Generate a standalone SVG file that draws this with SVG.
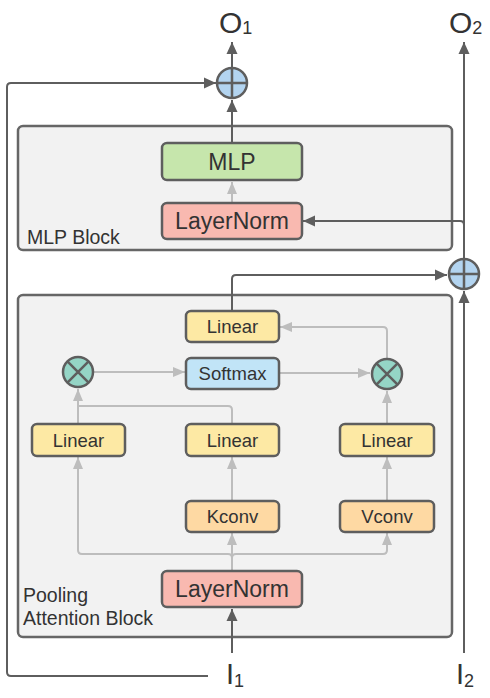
<svg xmlns="http://www.w3.org/2000/svg" width="490" height="698" viewBox="0 0 490 698">
<style>
.blk{fill:#f2f2f2;stroke:#666;stroke-width:2.5}
.nd{stroke:#5e5e5e;stroke-width:2.5}
.t{font-family:"Liberation Sans",Arial,sans-serif;fill:#333;text-anchor:middle}
.lb{font-family:"Liberation Sans",Arial,sans-serif;fill:#333;font-size:19.5px}
.io{font-family:"Liberation Sans",Arial,sans-serif;fill:#333}
.dk{fill:none;stroke:#5e5e5e;stroke-width:2}
.gr{fill:none;stroke:#bdbdbd;stroke-width:2}
.sym{stroke:#5e5e5e;stroke-width:2.5;fill:none}
</style>
<defs>
<marker id="ad" markerUnits="userSpaceOnUse" markerWidth="14" markerHeight="14" viewBox="0 0 14 14" refX="13" refY="7" orient="auto">
<path d="M1,1.5 L13,7 L1,12.5 Z" fill="#5e5e5e"/>
</marker>
<marker id="ag" markerUnits="userSpaceOnUse" markerWidth="14" markerHeight="14" viewBox="0 0 14 14" refX="13" refY="7" orient="auto">
<path d="M1,2 L13,7 L1,12 Z" fill="#bdbdbd"/>
</marker>
</defs>

<g id="mlp-block">
<rect class="blk" x="18" y="126" width="434" height="124" rx="5"/>
<text class="lb" x="27" y="244">MLP Block</text>
</g>
<g id="pool-block">
<rect class="blk" x="18" y="295" width="434" height="342" rx="5"/>
<text class="lb" x="23" y="602">Pooling</text>
<text class="lb" x="23" y="625">Attention Block</text>
</g>

<g id="connectors">
<path class="dk" d="M232,653 V609" marker-end="url(#ad)"/>
<path class="dk" d="M232,311 V279 Q232,275 236,275 H447" marker-end="url(#ad)"/>
<path class="dk" d="M464,653 V291" marker-end="url(#ad)"/>
<path class="dk" d="M464,258 V42" marker-end="url(#ad)"/>
<path class="dk" d="M464,258 V225 Q464,221 460,221 H303" marker-end="url(#ad)"/>
<path class="dk" d="M232,143 V100" marker-end="url(#ad)"/>
<path class="dk" d="M232,67 V42" marker-end="url(#ad)"/>
<path class="dk" d="M208,676 H11 Q7,676 7,672 V87 Q7,83 11,83 H216" marker-end="url(#ad)"/>

<path class="gr" d="M232,571 V533" marker-end="url(#ag)"/>
<path class="gr" d="M232,571 V558 Q232,554 228,554 H82 Q78,554 78,550 V457" marker-end="url(#ag)"/>
<path class="gr" d="M232,571 V558 Q232,554 236,554 H383 Q387,554 387,550 V533" marker-end="url(#ag)"/>
<path class="gr" d="M232,501 V457" marker-end="url(#ag)"/>
<path class="gr" d="M387,501 V457" marker-end="url(#ag)"/>
<path class="gr" d="M78,424 V389" marker-end="url(#ag)"/>
<path class="gr" d="M232,424 V410 Q232,406 228,406 H78"/>
<path class="gr" d="M94,372 H185" marker-end="url(#ag)"/>
<path class="gr" d="M279,373 H370" marker-end="url(#ag)"/>
<path class="gr" d="M387,424 V391" marker-end="url(#ag)"/>
<path class="gr" d="M387,359 V331 Q387,327 383,327 H280" marker-end="url(#ag)"/>
<path class="gr" d="M232,203 V182" marker-end="url(#ag)"/>
</g>

<g id="mlp">
<rect class="nd" x="162" y="143" width="140" height="37" rx="5" fill="#c6e6ac"/>
<text class="t" x="232" y="169.5" font-size="23">MLP</text>
</g>
<g id="layernorm-mlp">
<rect class="nd" x="162" y="203" width="140" height="36" rx="5" fill="#f9b9b0"/>
<text class="t" x="232" y="229" font-size="23">LayerNorm</text>
</g>
<g id="linear-out">
<rect class="nd" x="186" y="311" width="93" height="31" rx="5" fill="#fde9a4"/>
<text class="t" x="232.5" y="333" font-size="18.5">Linear</text>
</g>
<g id="softmax">
<rect class="nd" x="186" y="358" width="93" height="31" rx="5" fill="#c1e4f7"/>
<text class="t" x="232.5" y="380" font-size="18.5">Softmax</text>
</g>
<g id="linear-q">
<rect class="nd" x="32" y="424" width="93" height="32" rx="5" fill="#fde9a4"/>
<text class="t" x="78.5" y="446.5" font-size="18.5">Linear</text>
</g>
<g id="linear-k">
<rect class="nd" x="186" y="424" width="93" height="32" rx="5" fill="#fde9a4"/>
<text class="t" x="232.5" y="446.5" font-size="18.5">Linear</text>
</g>
<g id="linear-v">
<rect class="nd" x="340" y="424" width="94" height="32" rx="5" fill="#fde9a4"/>
<text class="t" x="387" y="446.5" font-size="18.5">Linear</text>
</g>
<g id="kconv">
<rect class="nd" x="186" y="501" width="93" height="31" rx="5" fill="#fed9a3"/>
<text class="t" x="232.5" y="523" font-size="18.5">Kconv</text>
</g>
<g id="vconv">
<rect class="nd" x="340" y="501" width="94" height="31" rx="5" fill="#fed9a3"/>
<text class="t" x="387" y="523" font-size="18.5">Vconv</text>
</g>
<g id="layernorm-attn">
<rect class="nd" x="162" y="571" width="140" height="36" rx="5" fill="#f9b9b0"/>
<text class="t" x="232" y="597" font-size="23">LayerNorm</text>
</g>

<g id="add-1">
<circle class="nd" cx="232" cy="83" r="15" fill="#b3d4f0"/>
<path class="sym" d="M217,83 H247 M232,68 V98"/>
</g>
<g id="add-2">
<circle class="nd" cx="464" cy="274" r="15" fill="#b3d4f0"/>
<path class="sym" d="M449,274 H479 M464,259 V289"/>
</g>
<g id="mul-1">
<circle class="nd" cx="78" cy="372" r="15" fill="#95d5c6"/>
<path class="sym" d="M67.4,361.4 L88.6,382.6 M88.6,361.4 L67.4,382.6"/>
</g>
<g id="mul-2">
<circle class="nd" cx="387" cy="374" r="15" fill="#95d5c6"/>
<path class="sym" d="M376.4,363.4 L397.6,384.6 M397.6,363.4 L376.4,384.6"/>
</g>

<g id="o1">
<text class="io" x="219" y="33" font-size="30">O<tspan font-size="18" dy="1">1</tspan></text>
</g>
<g id="o2">
<text class="io" x="449" y="33" font-size="30">O<tspan font-size="18" dy="1">2</tspan></text>
</g>
<g id="i1">
<text class="io" x="226" y="684" font-size="29">I<tspan font-size="18" dy="3">1</tspan></text>
</g>
<g id="i2">
<text class="io" x="456" y="684" font-size="29">I<tspan font-size="18" dy="3">2</tspan></text>
</g>
</svg>
